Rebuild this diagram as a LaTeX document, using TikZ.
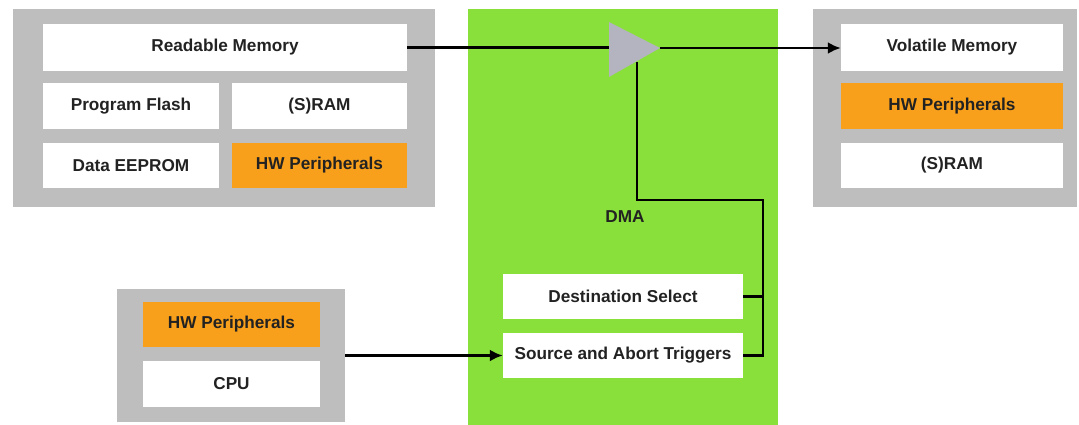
\documentclass[tikz,border=0pt]{standalone}
\usepackage{fontspec}
\setmainfont{Liberation Sans}
\usetikzlibrary{arrows.meta}
\definecolor{boxgray}{RGB}{190,190,190}
\definecolor{dmagreen}{RGB}{138,224,58}
\definecolor{hworange}{RGB}{248,160,28}
\definecolor{trigray}{RGB}{180,180,192}
\definecolor{txt}{RGB}{34,34,34}
\tikzset{
  blk/.style={rectangle, inner sep=0pt, font=\bfseries\fontsize{17.2}{19}\selectfont, text=txt},
  graybox/.style={blk, fill=boxgray},
  whitebox/.style={blk, fill=white},
  orangebox/.style={blk, fill=hworange},
  conn/.style={line width=2.8pt, black},
  arr/.style={conn, -{Latex[length=13pt,width=12pt]}},
}
\begin{document}
\begin{tikzpicture}[x=1pt,y=-1pt]
\useasboundingbox (0,0) rectangle (1079,424);
\fill[white] (0,0) rectangle (1079,424);
% left group
\node[graybox, minimum width=422, minimum height=198] (lg) at (224,108) {};
\node[whitebox, minimum width=364, minimum height=47] (read) at (225,47.5) {Readable Memory};
\node[whitebox, minimum width=176, minimum height=46] (pflash) at (131,106) {Program Flash};
\node[whitebox, minimum width=175, minimum height=46] (sram1) at (319.5,106) {(S)RAM};
\node[whitebox, minimum width=176, minimum height=45] (eeprom) at (131,165.5) {Data EEPROM};
\node[orangebox, minimum width=175, minimum height=45] (hw1) at (319.5,165.5) {HW Peripherals};
% right group
\node[graybox, minimum width=264, minimum height=198] (rg) at (945,108) {};
\node[whitebox, minimum width=222, minimum height=47] (vol) at (952,47.5) {Volatile Memory};
\node[orangebox, minimum width=222, minimum height=46] (hw2) at (952,106) {HW Peripherals};
\node[whitebox, minimum width=222, minimum height=45] (sram2) at (952,165.5) {(S)RAM};
% bottom-left group
\node[graybox, minimum width=228, minimum height=133] (bg) at (231,355.5) {};
\node[orangebox, minimum width=177, minimum height=45] (hw3) at (231.5,324.5) {HW Peripherals};
\node[whitebox, minimum width=177, minimum height=46] (cpu) at (231.5,384) {CPU};
% DMA
\node[blk, fill=dmagreen, minimum width=310, minimum height=421] (dma) at (623,219.5) {};
\node[blk] (dmalbl) at (625,217) {DMA};
\node[whitebox, minimum width=240, minimum height=45] (dst) at (623,296.5) {Destination Select};
\node[whitebox, minimum width=240, minimum height=45] (src) at (623,355.5) {Source and Abort Triggers};
% triangle (mux)
\fill[trigray] (609,22) -- (609,77) -- (660,48) -- cycle;
\coordinate (triin) at (609,48);
\coordinate (triout) at (660,48);
\coordinate (tribot) at (637,61.5);
\coordinate (j1) at (763,200);
\coordinate (j2) at (637,200);
% connectors
\draw[conn] (read.east) -- (read.east -| triin);
\draw[arr] (triout) -- (vol.west |- triout);
\draw[conn] (src.east) -| (j1) -- (j2) -- (tribot);
\draw[conn] (dst.east) -- (dst.east -| j1);
\draw[arr] (bg.east) -- (src.west);
\end{tikzpicture}
\end{document}
